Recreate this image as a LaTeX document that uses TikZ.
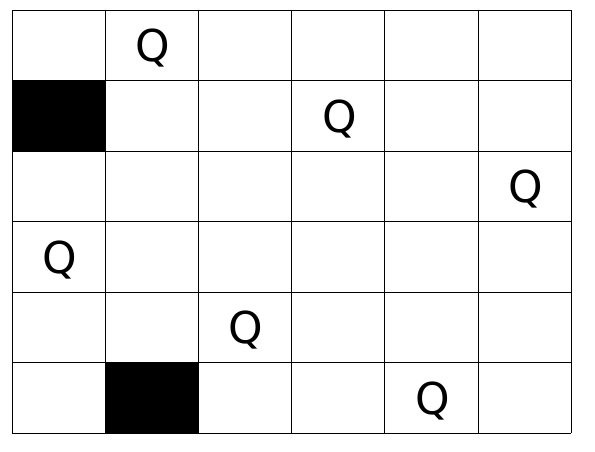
\documentclass[tikz,border=0pt]{standalone}
\usepackage{fontspec}
\setmainfont{DejaVu Sans}
\tikzset{queen/.style={font=\fontsize{25}{25}\selectfont}}
\begin{document}
\begin{tikzpicture}[x=0.02cm, y=-0.02cm]
    \useasboundingbox (0,0) rectangle (595,451);
    \fill[black] (12,81) rectangle (105.2,151.5);
    \fill[black] (105.2,362.5) rectangle (198.3,433);
    \foreach \i in {0,...,6} {
        \draw ({12+\i*93.17},10) -- ({12+\i*93.17},433);
        \draw (12,{10+\i*70.5}) -- (571,{10+\i*70.5});
    }
    \node[queen] (q1) at (153,48) {Q};
    \node[queen] (q2) at (340,119) {Q};
    \node[queen] (q3) at (526,189) {Q};
    \node[queen] (q4) at (60,260) {Q};
    \node[queen] (q5) at (246,330) {Q};
    \node[queen] (q6) at (433,401) {Q};
\end{tikzpicture}
\end{document}
